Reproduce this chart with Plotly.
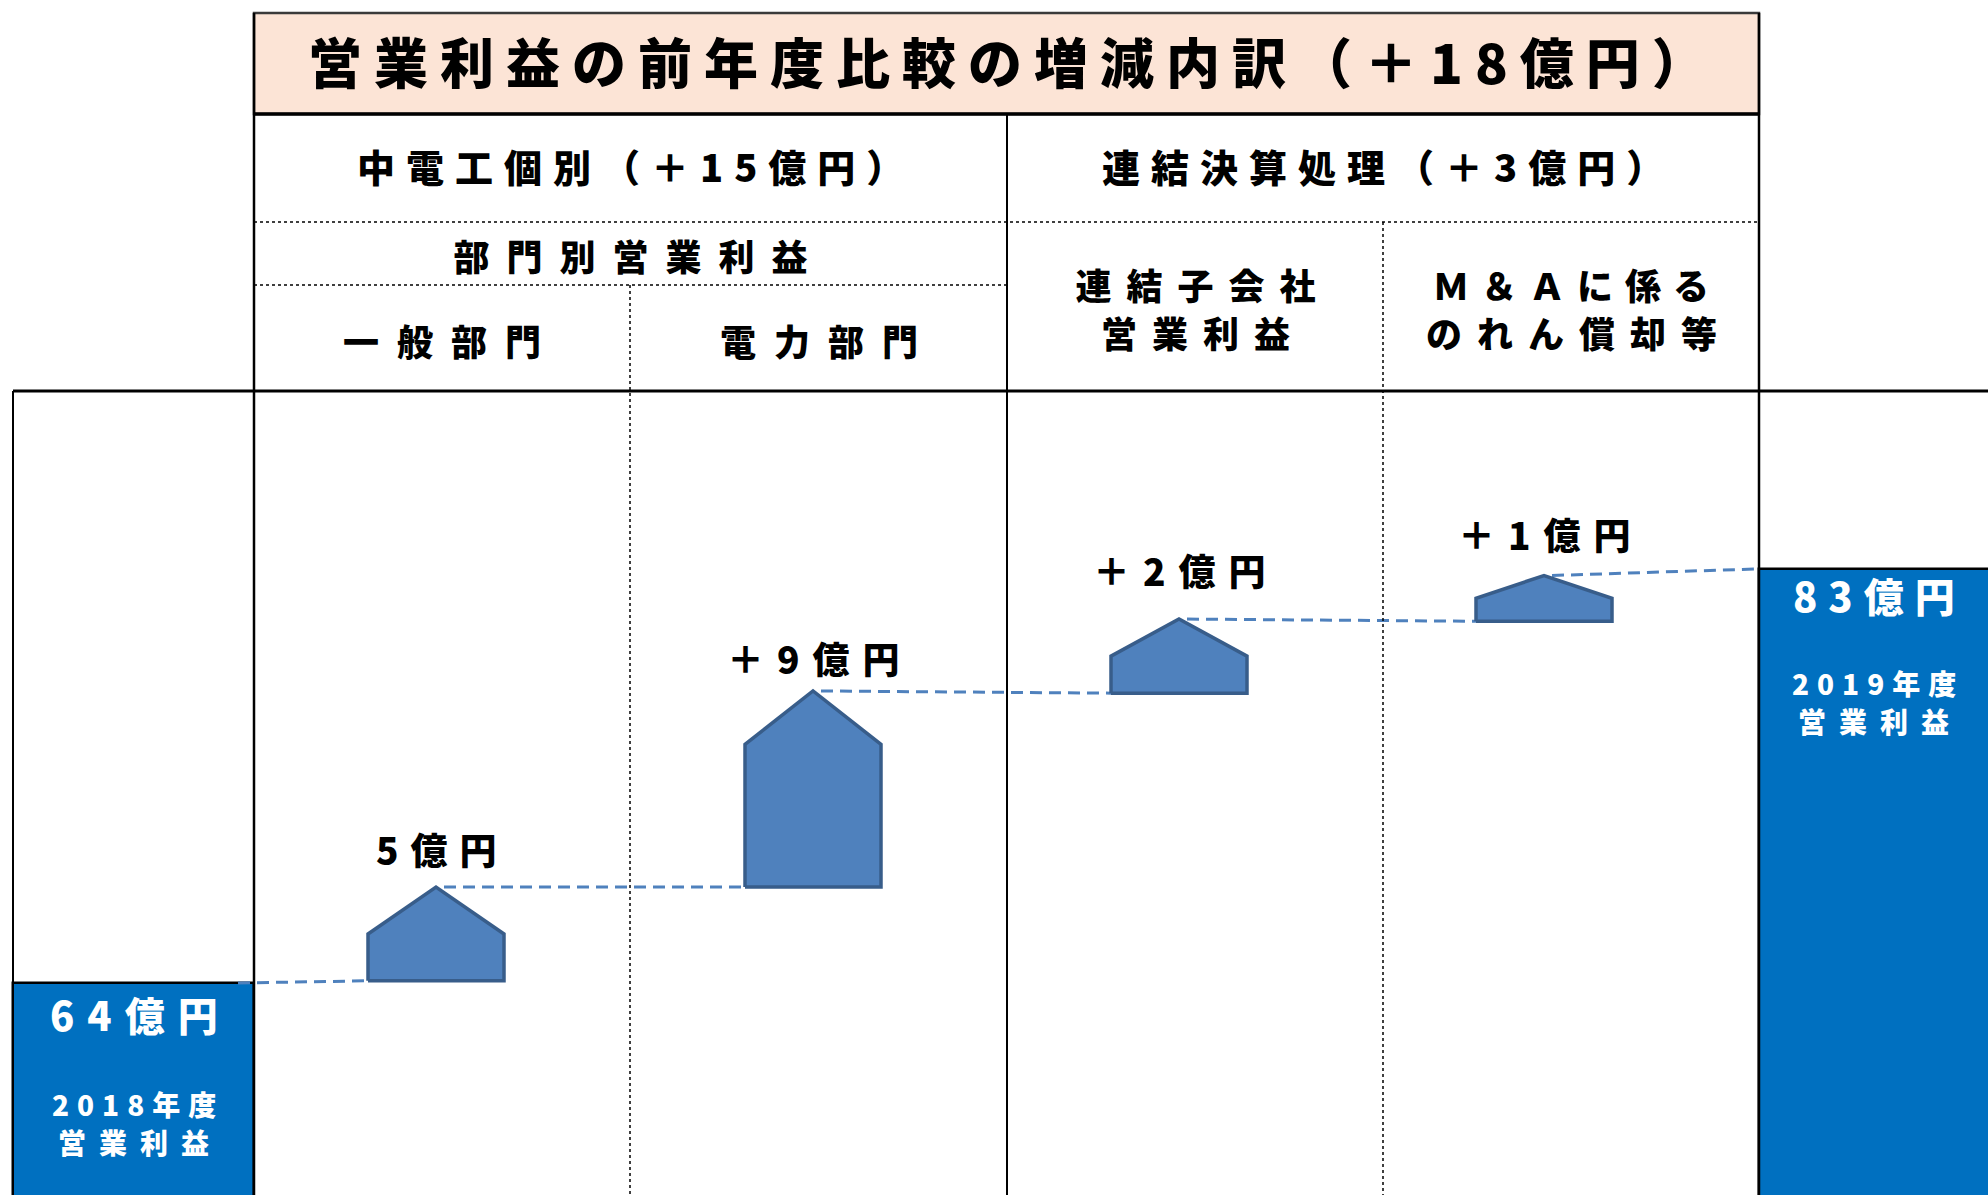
import json
import plotly.graph_objects as go

# ---------------- data ----------------
title_text = "営業利益の前年度比較の増減内訳（＋18億円）"
group_labels = ["中電工個別（＋15億円）", "連結決算処理（＋3億円）"]
subgroup_label = "部門別営業利益"
column_labels = ["一般部門", "電力部門", "連結子会社<br>営業利益", "Ｍ＆Ａに係る<br>のれん償却等"]

start_value = 64            # 2018年度 営業利益（億円）
end_value = 83              # 2019年度 営業利益（億円）
start_labels = ["64億円", "2018年度", "営業利益"]
end_labels = ["83億円", "2019年度", "営業利益"]

change_values = [5, 9, 2, 1]
change_labels = ["5億円", "＋9億円", "＋2億円", "＋1億円"]
# bottom / top of each arrow as drawn in the picture, read on the 億円 scale of the two end bars
arrow_bottoms = [64.1, 68.4, 77.3, 80.6]
arrow_tops = [68.4, 77.4, 80.7, 82.7]

# ---------------- layout constants ----------------
W, H = 1988, 1195
Y_RANGE = [54.27, 109.11]
FONT = "Noto Sans CJK JP, Noto Sans, sans-serif"


def py(px):
    return 1 - px / H


X_OUT, X_L, X_M1, X_M, X_M2, X_R = 13, 254, 630, 1007, 1383, 1759
Y_T0, Y_T1, Y_R1, Y_R2, Y_B = 13, 114, 222, 285, 391
arrow_cx = [436, 813, 1179, 1544]
ARROW_W = 136
ROOF_MAX = 2.45
label_yshift = [9, 4, 20, 12]

ARROW_FILL = "#4F81BD"
ARROW_EDGE = "#385D8A"
BAR_BLUE = "#0070C0"

fig = go.Figure()

# end bars
fig.add_trace(go.Bar(
    x=[(X_OUT + X_L) / 2, (X_R + W + 40) / 2],
    y=[start_value, end_value],
    width=[X_L - X_OUT, W + 40 - X_R],
    marker=dict(color=BAR_BLUE, line=dict(color="black", width=2.5)),
    hoverinfo="skip", showlegend=False,
))

# dashed connectors
conn_x0 = [X_L - 16] + [c + 8 for c in arrow_cx]
conn_x1 = [c - ARROW_W / 2 for c in arrow_cx] + [X_R - 2]
conn_y0 = [start_value] + arrow_tops
conn_y1 = arrow_bottoms + [end_value]
for xa, xb, ya, yb in zip(conn_x0, conn_x1, conn_y0, conn_y1):
    fig.add_trace(go.Scatter(
        x=[xa, xb], y=[ya, yb], mode="lines",
        line=dict(color=ARROW_FILL, width=3, dash="12px,7px"),
        hoverinfo="skip", showlegend=False,
    ))

# arrows (pentagon shapes)
for i, (b, t) in enumerate(zip(arrow_bottoms, arrow_tops)):
    roof = min(0.5 * (t - b), ROOF_MAX)
    x0 = arrow_cx[i] - ARROW_W / 2
    x1 = arrow_cx[i] + ARROW_W / 2
    fig.add_trace(go.Scatter(
        x=[x0, x1, x1, arrow_cx[i], x0, x0],
        y=[b, b, t - roof, t, t - roof, b],
        mode="lines", fill="toself", fillcolor=ARROW_FILL,
        line=dict(color=ARROW_EDGE, width=3.5),
        hoverinfo="skip", showlegend=False,
    ))

# ---------------- table lines ----------------
shapes = []


def hline(y, x0, x1, width=2, dash="solid"):
    shapes.append(dict(type="line", xref="x", yref="paper", x0=x0, x1=x1,
                       y0=py(y), y1=py(y), line=dict(color="black", width=width, dash=dash)))


def vline(x, y0, y1, width=2, dash="solid"):
    shapes.append(dict(type="line", xref="x", yref="paper", x0=x, x1=x,
                       y0=py(y0), y1=py(y1), line=dict(color="black", width=width, dash=dash)))


shapes.append(dict(type="rect", xref="x", yref="paper", x0=X_L, x1=X_R, y0=py(Y_T1), y1=py(Y_T0),
                   fillcolor="#FCE4D6", line=dict(color="#3A3A3A", width=2.5), layer="below"))
hline(Y_T1, X_L, X_R, width=3.5)
hline(Y_R1, X_L, X_R, width=1.5, dash="dot")
hline(Y_R2, X_L, X_M, width=1.5, dash="dot")
hline(Y_B, X_OUT, W, width=3)
vline(X_L, Y_T0, H, width=2.5)
vline(X_R, Y_T0, H, width=2.5)
vline(X_M, Y_T1, H, width=2)
vline(X_M1, Y_R2, H, width=1.5, dash="dot")
vline(X_M2, Y_R1, H, width=1.5, dash="dot")
vline(X_OUT, Y_B, H, width=2)

# ---------------- texts ----------------
annotations = []
spacings = []


def ann(text, x, y, size, sp, color="black", yref="paper", yshift=0, yanchor="middle"):
    annotations.append(dict(
        text=text, x=x, y=y, xref="x", yref=yref, showarrow=False,
        xanchor="center", yanchor=yanchor, xshift=sp / 2, yshift=yshift,
        font=dict(family=FONT, size=size, color=color, weight=900),
    ))
    spacings.append(sp)


ann(title_text, (X_L + X_R) / 2, py(60), 54, 12)
ann(group_labels[0], X_M1, py(166), 38, 11)
ann(group_labels[1], X_M2, py(166), 38, 11)
ann(subgroup_label, X_M1, py(255), 36, 17)
ann(column_labels[0], (X_L + X_M1) / 2, py(340), 36, 18)
ann(column_labels[1], (X_M1 + X_M) / 2, py(340), 36, 18)

two_line_sp = [[15, 15], [12, 15]]
for k, lab in enumerate(column_labels[2:]):
    cx = [(X_M + X_M2) / 2, (X_M2 + X_R) / 2][k]
    for j, line in enumerate(lab.split("<br>")):
        ann(line, cx, py([284, 332][j]), 36, two_line_sp[k][j])

for i, lab in enumerate(change_labels):
    ann(lab, arrow_cx[i], arrow_tops[i], 37, 12 if i == 0 else 13,
        yref="y", yanchor="bottom", yshift=label_yshift[i])

left_cx = (X_OUT + X_L) / 2
right_cx = (X_R + W) / 2
ann(start_labels[0], left_cx, start_value, 40, 13, color="white", yref="y", yshift=-31)
ann(start_labels[1], left_cx, start_value, 28, 8, color="white", yref="y", yshift=-121)
ann(start_labels[2], left_cx, start_value, 28, 13, color="white", yref="y", yshift=-159)
ann(end_labels[0], right_cx, end_value, 40, 11, color="white", yref="y", yshift=-26)
ann(end_labels[1], right_cx, end_value, 28, 8, color="white", yref="y", yshift=-114)
ann(end_labels[2], right_cx, end_value, 28, 13, color="white", yref="y", yshift=-152)

fig.update_layout(
    width=W, height=H,
    margin=dict(l=0, r=0, t=0, b=0),
    paper_bgcolor="white", plot_bgcolor="white",
    xaxis=dict(range=[0, W], domain=[0, 1], visible=False, fixedrange=True),
    yaxis=dict(range=Y_RANGE, domain=[0, 1], visible=False, fixedrange=True),
    shapes=shapes, annotations=annotations, showlegend=False,
    bargap=0,
)

post = """
document.body.style.margin = '0';
document.documentElement.style.overflow = 'hidden';
var gd = document.getElementById('{plot_id}');
var sp = %s;
function applySpacing(){
  gd.querySelectorAll('g.annotation').forEach(function(g){
    var i = parseInt(g.getAttribute('data-index'));
    var t = g.querySelector('text.annotation-text');
    if (t && sp[i]) { t.style.letterSpacing = sp[i] + 'px'; }
  });
}
applySpacing();
gd.on('plotly_afterplot', applySpacing);
""" % json.dumps(spacings)

fig.write_html("out.html", config={"displayModeBar": False}, post_script=post)
